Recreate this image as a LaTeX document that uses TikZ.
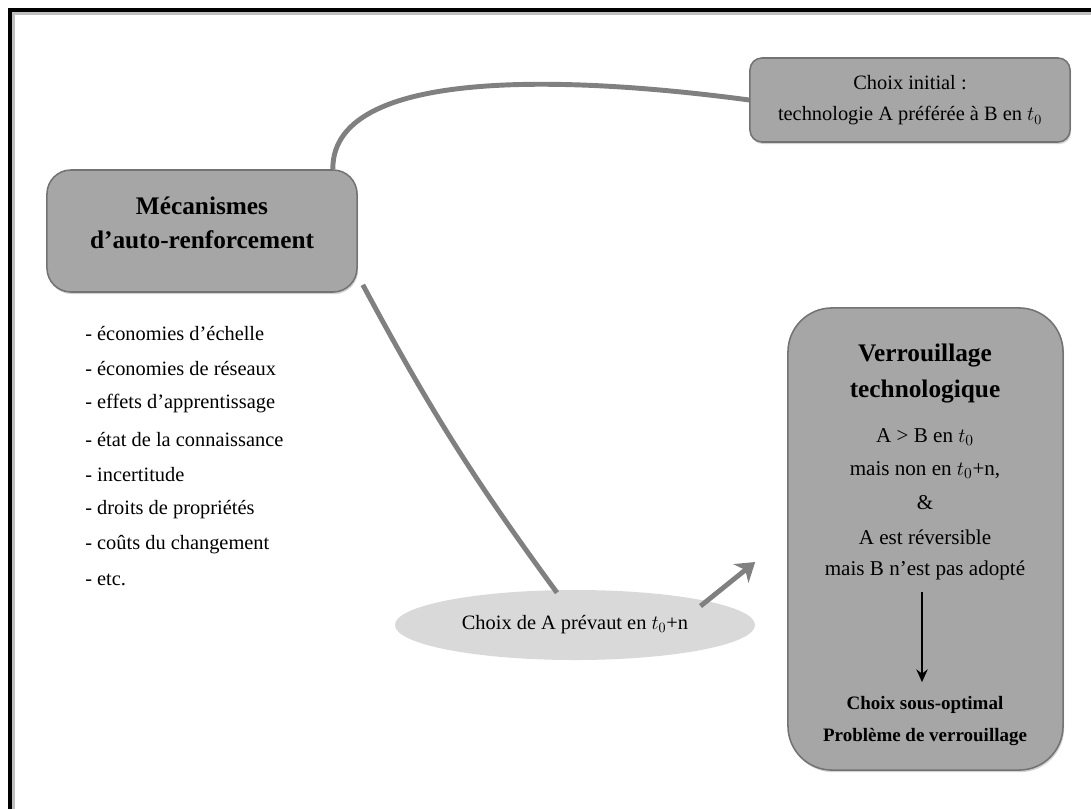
\documentclass[tikz,border=0pt]{standalone}
\usepackage{fontspec}
\setmainfont{Liberation Serif}
\usetikzlibrary{shapes.geometric, shadows, arrows.meta, calc}

\tikzset{
	boite/.style={draw=black!55, fill=black!35, line width=1.1pt, drop shadow={opacity=0.35, shadow xshift=0.8pt, shadow yshift=-1.5pt}},
	lien/.style={draw=black!50, line width=3.5pt},
	titre/.style={font=\fontsize{18}{20}\selectfont\bfseries, inner sep=0pt},
	ligne/.style={font=\fontsize{15}{17}\selectfont, inner sep=0pt},
	liste/.style={anchor=west, font=\fontsize{14.5}{16}\selectfont, inner sep=0pt},
}

\begin{document}
\begin{tikzpicture}[x=0.025cm, y=-0.025cm]
	\useasboundingbox (0,0) rectangle (1091,809);
	
	% Cadre (haut et gauche), avec ombre
	\draw[line width=2.2pt, black!25] (13,809) -- (13,13) -- (1091,13);
	\draw[line width=2.2pt] (10,809) -- (10,10) -- (1091,10);
	
	% Boite Choix initial
	\node[boite, rounded corners=0.3cm, minimum width=8cm, minimum height=2.1cm] (choix) at (910,100) {};
	\node[ligne, font=\fontsize{14.5}{16}\selectfont] (choix1) at (910,83) {Choix initial :};
	\node[ligne, font=\fontsize{14.5}{16}\selectfont] (choix2) at (910,116) {technologie A préférée à B en $t_0$};
	
	% Boite Mecanismes
	\node[boite, rounded corners=0.6cm, minimum width=7.75cm, minimum height=3.05cm] (meca) at (202,231) {};
	\node[titre] (meca1) at (202,206) {Mécanismes};
	\node[titre] (meca2) at (202,240) {d’auto-renforcement};
	
	% Liste des mecanismes
	\node[liste] (l1) at (85,334) {- économies d’échelle};
	\node[liste] (l2) at (85,369) {- économies de réseaux};
	\node[liste] (l3) at (85,404) {- effets d’apprentissage};
	\node[liste] (l4) at (85,440) {- état de la connaissance};
	\node[liste] (l5) at (85,475) {- incertitude};
	\node[liste] (l6) at (85,510) {- droits de propriétés};
	\node[liste] (l7) at (85,545) {- coûts du changement};
	\node[liste] (l8) at (85,580) {- etc.};
	
	% Ellipse Choix de A
	\node[ellipse, fill=black!15, minimum width=9cm, minimum height=1.75cm, inner sep=0pt] (prevaut) at (575,625) {};
	\node[ligne, font=\fontsize{14.5}{16}\selectfont] (prevaut1) at (575,625) {Choix de A prévaut en $t_0$+n};
	
	% Boite Verrouillage
	\node[boite, rounded corners=1.1cm, minimum width=6.875cm, minimum height=11.55cm] (verrou) at (925.5,539) {};
	\node[titre] (v1) at (925,356) {Verrouillage};
	\node[titre] (v2) at (925,392) {technologique};
	\node[ligne] (v3) at (925,437) {A > B en $t_0$};
	\node[ligne] (v4) at (925,470) {mais non en $t_0$+n,};
	\node[ligne] (v5) at (925,503) {\&};
	\node[ligne] (v6) at (925,537) {A est réversible};
	\node[ligne] (v7) at (925,570) {mais B n’est pas adopté};
	\node[ligne, font=\fontsize{13.5}{15}\selectfont\bfseries] (v8) at (925,705) {Choix sous-optimal};
	\node[ligne, font=\fontsize{13.5}{15}\selectfont\bfseries] (v9) at (925,737) {Problème de verrouillage};
	
	% Fleche noire dans le verrouillage
	\draw[line width=2pt, -{Stealth[length=9pt, width=8pt]}] ($(v7.south)+(-3,12)$) -- ($(v8.north)+(-3,-14)$);
	
	% Liens gris
	\draw[lien] ($(meca.north east)+(-25,0)$) .. controls (332,60) and (600,80) .. (choix.west);
	\draw[lien] ($(meca.south east)+(5,-8)$) to[bend right=4] ($(prevaut.north)+(-18,3)$);
	\draw[lien, -{Stealth[length=13pt, width=17pt, inset=4pt]}] ($(prevaut.north east)+(-2,6)$) -- ($(verrou.west)+(-32,23)$);
	
\end{tikzpicture}
\end{document}
